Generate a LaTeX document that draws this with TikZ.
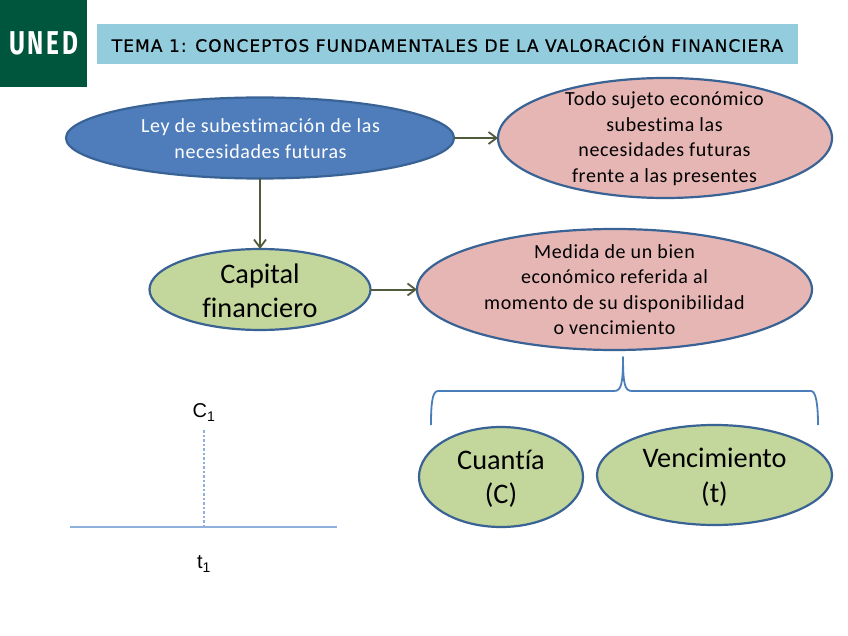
\documentclass[tikz,border=0pt]{standalone}
\usepackage{fontspec}
\setmainfont[RawFeature=-liga]{Carlito}
\newfontfamily\spacedfont[LetterSpace=3,RawFeature=-liga]{Carlito}
\newfontfamily\titlefont[LetterSpace=6.4,FakeBold=0.6]{DejaVu Sans}
\newfontfamily\arialfont{Liberation Sans}
\newfontfamily\logofont[LetterSpace=11]{Fira Sans}
\usetikzlibrary{shapes.geometric,arrows.meta}
\definecolor{edgeblue}{HTML}{3A6395}
\definecolor{fillblue}{HTML}{4F7DBB}
\definecolor{fillpink}{HTML}{E6B6B5}
\definecolor{fillgreen}{HTML}{C3D69B}
\definecolor{banner}{HTML}{93CDDD}
\definecolor{logogreen}{HTML}{00553D}
\definecolor{olive}{HTML}{505A3C}
\definecolor{lineblue}{HTML}{4A7EBB}
\definecolor{axisblue}{HTML}{8FB0DA}
\tikzset{
  x=1pt,y=-1pt,
  oval/.style={ellipse,draw=edgeblue,line width=2.2pt,inner sep=0pt,outer sep=0pt},
  smalltext/.style={align=center,inner sep=0pt,font=\spacedfont\fontsize{20}{25.5}\selectfont},
  bigtext/.style={align=center,inner sep=0pt,font=\fontsize{28.3}{34.5}\selectfont},
  conn/.style={draw=olive,line width=2pt,-{Straight Barb[length=8pt,width=12pt,line width=1.8pt]}},
}
\begin{document}
\begin{tikzpicture}
\useasboundingbox (0,0) rectangle (848,636);
\fill[white] (0,0) rectangle (848,636);
\node[fill=logogreen,minimum width=87pt,minimum height=87pt,inner sep=0pt,outer sep=0pt,text=white,font=\logofont\bfseries\fontsize{33}{33}\selectfont] (logo) at (43.5,43.5) {\scalebox{0.74}[1]{UNED}};
\node[fill=banner,minimum width=701pt,minimum height=40pt,inner sep=0pt,outer sep=0pt,font=\titlefont\fontsize{17}{20}\selectfont,text=black] (title) at (447.5,44) {TEMA 1: CONCEPTOS FUNDAMENTALES DE LA VALORACIÓN FINANCIERA};

\node[oval,fill=fillblue,minimum width=388pt,minimum height=81pt] (ley) at (260,138) {};
\node[oval,fill=fillpink,minimum width=334pt,minimum height=120pt] (todo) at (665,138) {};
\node[oval,fill=fillgreen,minimum width=221pt,minimum height=81pt] (capital) at (260,289.5) {};
\node[oval,fill=fillpink,minimum width=395pt,minimum height=121pt] (medida) at (614.5,289.5) {};
\node[oval,fill=fillgreen,minimum width=164pt,minimum height=100pt] (cuantia) at (501,477) {};
\node[oval,fill=fillgreen,minimum width=235pt,minimum height=100pt] (venc) at (714.5,475) {};

\node[smalltext,text=white] (leytext) at (260.5,138.5) {Ley de subestimación de las\\necesidades futuras};
\node[smalltext] (todotext) at (664.5,138.5) {Todo sujeto económico\\subestima las\\necesidades futuras\\frente a las presentes};
\node[bigtext] (capitaltext) at (260,291) {Capital\\financiero};
\node[smalltext] (medidatext) at (614.5,289.5) {Medida de un bien\\económico referida al\\momento de su disponibilidad\\o vencimiento};
\node[bigtext] (cuantiatext) at (501,479) {Cuantía\\(C)};
\node[bigtext] (venctext) at (714.5,477) {Vencimiento\\(t)};

\draw[conn] (ley.east) -- (todo.west);
\draw[conn] (ley.south) -- (capital.north);
\draw[conn] (capital.east) -- (medida.west);

\coordinate (bl) at (431,425);
\coordinate (bt) at (623,357);
\coordinate (br) at (818,425);
\draw[lineblue,line width=1.8pt,line join=round] (bl) .. controls (431,405) and (432,391) .. (438,391) -- (614,391) .. controls (621,391) and (623,385) .. (bt) .. controls (623,385) and (625,391) .. (632,391) -- (811,391) .. controls (816,391) and (818,405) .. (br);

\coordinate (axl) at (70,527);
\coordinate (axr) at (337,527);
\coordinate (tick) at (203.5,527);
\coordinate (tickt) at (203.5,429);
\draw[axisblue,line width=1.8pt] (axl) -- (axr);
\draw[axisblue,line width=2pt,dash pattern=on 2.5pt off 2pt] (tick) -- (tickt);
\node[font=\arialfont\fontsize{20}{24}\selectfont,inner sep=0pt] (c1) at (204,412.5) {C\textsubscript{1}};
\node[font=\arialfont\fontsize{20}{24}\selectfont,inner sep=0pt] (t1) at (204,564) {t\textsubscript{1}};
\end{tikzpicture}
\end{document}
